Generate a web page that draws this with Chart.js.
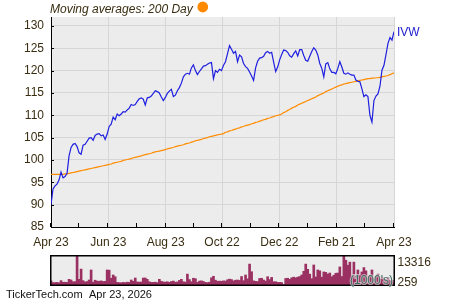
<!DOCTYPE html>
<html><head><meta charset="utf-8">
<script src="https://cdn.jsdelivr.net/npm/chart.js@4/dist/chart.umd.min.js"></script>
<style>
html,body{margin:0;padding:0;background:#fff;}
#wrap{position:relative;width:450px;height:300px;overflow:hidden;}
#main{position:absolute;left:0;top:0;width:450px;height:250px;}
#vol{position:absolute;left:0;top:250px;width:450px;height:50px;}
</style></head><body>
<div id="wrap">
<canvas id="main" width="450" height="250"></canvas>
<canvas id="vol" width="450" height="50"></canvas>
</div>
<script>
// ---- data ----
const ivw = [
  90.0, 93.5, 94.2, 94.6, 95.5, 97.3, 96.0, 96.3, 97.0, 100.9,
  102.8, 103.5, 103.7, 103.0, 101.6, 101.3, 103.3, 103.5, 104.2, 104.9,
  105.0, 104.4, 105.5, 105.8, 105.9, 105.4, 105.6, 104.6, 105.8, 107.5,
  108.0, 109.6, 109.0, 110.3, 109.9, 110.3, 110.8, 110.7, 111.2, 111.6,
  112.4, 112.2, 112.4, 113.1, 113.7, 113.9, 113.6, 112.3, 113.9, 114.0,
  114.3, 114.9, 115.5, 115.3, 115.0, 114.1, 113.3, 114.0, 114.9, 115.4,
  115.8, 114.2, 114.5, 115.5, 116.2, 117.2, 118.6, 119.2, 119.4, 119.2,
  120.6, 121.3, 120.0, 119.1, 119.8, 120.4, 121.0, 121.1, 121.4, 121.7,
  121.8, 118.2, 120.0, 119.6, 120.3, 120.0, 121.2, 122.0, 123.8, 125.6,
  124.8, 123.9, 124.3, 122.0, 123.5, 123.1, 121.6, 120.9, 120.5, 119.7,
  118.8, 117.8, 120.6, 122.1, 122.8, 122.9, 123.2, 124.0, 124.3, 123.9,
  124.1, 121.9, 119.8, 120.8, 122.4, 123.6, 124.6, 124.5, 124.1, 123.3,
  123.0, 123.8, 124.4, 123.3, 124.7, 124.7, 123.4, 122.3, 122.1, 123.2,
  124.3, 125.1, 124.6, 123.5, 121.6, 120.5, 118.6, 121.5, 121.8, 120.4,
  119.6, 119.6, 119.3, 120.5, 122.0, 120.8, 119.4, 119.2, 119.5, 119.2,
  119.0, 119.0, 117.9, 117.6, 117.5, 115.9, 114.2, 114.6, 114.2, 110.0,
  108.5, 113.3, 114.3, 114.8, 116.5, 120.1, 121.2, 123.6, 126.1, 127.4, 126.8, 128.7
];
const sma200 = [
  96.8, 96.8, 96.8, 96.8, 96.8, 96.8, 96.8, 96.9, 96.9, 97.0,
  97.1, 97.2, 97.3, 97.4, 97.5, 97.6, 97.7, 97.8, 97.9, 98.0,
  98.1, 98.2, 98.3, 98.4, 98.5, 98.6, 98.7, 98.8, 98.9, 99.0,
  99.1, 99.3, 99.4, 99.5, 99.6, 99.7, 99.9, 100.0, 100.1, 100.2,
  100.3, 100.5, 100.6, 100.7, 100.8, 100.9, 101.1, 101.2, 101.3, 101.4,
  101.5, 101.7, 101.8, 101.9, 102.0, 102.1, 102.2, 102.3, 102.5, 102.6,
  102.7, 102.8, 103.0, 103.1, 103.2, 103.3, 103.4, 103.6, 103.7, 103.8,
  104.0, 104.1, 104.3, 104.4, 104.5, 104.6, 104.8, 104.9, 105.0, 105.2,
  105.3, 105.4, 105.5, 105.6, 105.7, 105.8, 105.9, 106.2, 106.3, 106.5,
  106.6, 106.8, 106.9, 107.1, 107.2, 107.4, 107.5, 107.7, 107.8, 107.9,
  108.1, 108.2, 108.4, 108.5, 108.7, 108.8, 109.0, 109.1, 109.3, 109.4,
  109.6, 109.7, 109.9, 110.0, 110.1, 110.3, 110.6, 110.8, 111.1, 111.3,
  111.6, 111.8, 112.0, 112.3, 112.5, 112.7, 112.9, 113.1, 113.3, 113.5,
  113.7, 113.9, 114.1, 114.4, 114.6, 114.8, 115.0, 115.3, 115.5, 115.7,
  115.9, 116.1, 116.3, 116.5, 116.7, 116.8, 117.0, 117.1, 117.2, 117.3,
  117.4, 117.5, 117.6, 117.7, 117.8, 117.9, 118.0, 118.1, 118.2, 118.2,
  118.3, 118.3, 118.4, 118.4, 118.5, 118.6, 118.7, 118.8, 118.9, 119.1, 119.3, 119.5
];
const volume = [
  1900, 1100, 1100, 1200, 1000, 2000, 1250, 1300, 1200, 2600,
  2300, 1500, 1550, 13316, 2600, 7300, 2000, 1400, 1600, 2300,
  6900, 1300, 2200, 1800, 1700, 1900, 1600, 1700, 6900, 6800,
  3100, 4600, 3800, 1200, 1100, 1000, 1200, 1100, 1300, 1200,
  2300, 1700, 3200, 1400, 1300, 1400, 3200, 3200, 2600, 1500,
  1200, 1200, 1300, 1100, 2600, 1700, 1400, 1300, 1500, 1200,
  1600, 1800, 1300, 1400, 2100, 2600, 1500, 1300, 5000, 2500,
  1500, 3100, 2900, 1200, 1800, 1900, 1600, 1200, 1100, 1300,
  3300, 4000, 2200, 1700, 1800, 1700, 1900, 1800, 2400, 2700,
  2500, 1900, 2200, 2300, 2100, 3900, 2000, 4600, 2800, 9600,
  6100, 1900, 1700, 1600, 3000, 3100, 2300, 1800, 3800, 2500,
  3500, 1500, 1500, 1200, 1200, 1100, 259, 3000, 3100, 2600,
  3300, 3600, 3300, 3600, 3900, 4600, 6300, 9600, 7200, 5000,
  2900, 9200, 3700, 6900, 6500, 3600, 6000, 5800, 5000, 5500,
  3800, 4500, 5400, 5500, 8300, 3900, 13316, 11400, 9100, 10500,
  4200, 10500, 3700, 6900, 4300, 6000, 8000, 6500, 3800, 4500,
  6900, 2800, 4000, 5000, 2600, 3700, 2900, 2400, 3500, 2000, 1800, 2200
];
const monthTickDays = [0, 30, 61, 91, 122, 152, 182, 213, 243, 273, 304, 334, 365];
const monthTickLabels = ['Apr 23', '', 'Jun 23', '', 'Aug 23', '', 'Oct 22', '', 'Dec 22', '', 'Feb 21', '', 'Apr 23'];
const yTickValues = [85, 87.5, 90, 92.5, 95, 97.5, 100, 102.5, 105, 107.5, 110, 112.5, 115, 117.5, 120, 122.5, 125, 127.5, 130];
const volTickValues = [13316, 259];
const volTickLabels = ['13316', '259'];
const tickerName = 'IVW';
const titleText = 'Moving averages: 200 Day';
const footerSite = 'TickerTech.com';
const footerDate = 'Apr 23, 2026';
const volUnits = "(1000's)";

// ---- drawing ----
const FONT = '"Liberation Sans", Arial, sans-serif';
const LABEL = '#3a2e12';
const n = ivw.length;
const dayOf = i => i * 365 / (n - 1);

const bgPlugin = {
  id: 'bg',
  beforeDraw(chart) {
    const a = chart.chartArea, c = chart.ctx;
    c.save(); c.fillStyle = '#ececec';
    c.fillRect(a.left, a.top, a.right - a.left, a.bottom - a.top);
    c.restore();
  }
};

const mainOverlay = {
  id: 'mainOverlay',
  afterDraw(chart) {
    const c = chart.ctx, a = chart.chartArea;
    const xs = chart.scales.x, ys = chart.scales.y;
    c.save();
    c.strokeStyle = '#000'; c.lineWidth = 1;
    c.beginPath();
    xs.ticks.forEach(t => {
      const px = Math.round(xs.getPixelForValue(t.value)) - 0.5;
      c.moveTo(px, a.bottom); c.lineTo(px, a.bottom - 4);
    });
    ys.ticks.forEach(t => {
      const py = Math.round(ys.getPixelForValue(t.value)) + 0.5;
      c.moveTo(a.left, py); c.lineTo(a.left + 3, py);
    });
    c.stroke();
    // ticker label
    c.fillStyle = '#2020d0';
    c.font = '12px ' + FONT;
    c.textBaseline = 'middle'; c.textAlign = 'left';
    c.fillText(tickerName, a.right + 3, ys.getPixelForValue(ivw[n - 1]) + 1);
    // title
    c.fillStyle = LABEL;
    c.font = 'italic 12px ' + FONT;
    c.textBaseline = 'alphabetic';
    c.fillText(titleText, 50, 12.5);
    const w = c.measureText(titleText).width;
    c.fillStyle = '#ff8a00';
    c.beginPath(); c.arc(50 + w + 10, 7, 5.4, 0, Math.PI * 2); c.fill();
    c.restore();
  }
};

new Chart(document.getElementById('main'), {
  type: 'line',
  data: {
    datasets: [
      { label: tickerName, data: ivw.map((v, i) => ({ x: dayOf(i), y: v })),
        borderColor: '#1f1fe0', borderWidth: 1.2, pointRadius: 0, tension: 0, order: 1 },
      { label: '200 Day', data: sma200.map((v, i) => ({ x: dayOf(i), y: v })),
        borderColor: '#ff8c00', borderWidth: 1.2, pointRadius: 0, tension: 0, order: 2 }
    ]
  },
  options: {
    responsive: false, animation: false, events: [],
    layout: { padding: { top: 17, right: 56, left: 0, bottom: 0 } },
    plugins: { legend: { display: false }, tooltip: { enabled: false } },
    scales: {
      x: {
        type: 'linear', min: 0, max: 365,
        afterBuildTicks: s => { s.ticks = monthTickDays.map(v => ({ value: v })); },
        afterFit: s => { s.height = 23; },
        grid: { drawTicks: false, lineWidth: 1,
          color: ctx => (ctx.index > 0 && ctx.index % 2 === 0) ? '#d6d6d6' : 'rgba(0,0,0,0)' },
        border: { display: true, color: '#000', width: 1 },
        ticks: { autoSkip: false, maxRotation: 0, minRotation: 0, padding: 8, color: LABEL,
          font: { family: FONT, size: 12 }, callback: (v, i) => monthTickLabels[i] }
      },
      y: {
        min: 85, max: 132,
        afterBuildTicks: s => { s.ticks = yTickValues.map(v => ({ value: v })); },
        afterFit: s => { s.width = 51; },
        grid: { drawTicks: false, lineWidth: 1,
          color: ctx => (ctx.tick && ctx.tick.value % 5 === 0 && ctx.tick.value > 85) ? '#d6d6d6' : 'rgba(0,0,0,0)' },
        border: { display: true, color: '#000', width: 1 },
        ticks: { padding: 7, color: LABEL, font: { family: FONT, size: 12 },
          callback: v => (v % 5 === 0 ? String(v) : '') }
      }
    }
  },
  plugins: [bgPlugin, mainOverlay]
});

const volOverlay = {
  id: 'volOverlay',
  afterDraw(chart) {
    const c = chart.ctx, a = chart.chartArea, ys = chart.scales.y;
    c.save();
    c.strokeStyle = '#000'; c.lineWidth = 1.5;
    c.strokeRect(a.left - 0.25, a.top - 0.25, a.right - a.left + 0.5, a.bottom - a.top + 0.5);
    c.font = '12px ' + FONT;
    c.fillStyle = LABEL; c.textAlign = 'left';
    c.textBaseline = 'top';
    c.fillText(volTickLabels[0], a.right + 3.5, ys.getPixelForValue(volTickValues[0]) + 0.5);
    c.textBaseline = 'bottom';
    c.fillText(volTickLabels[1], a.right + 3.5, ys.getPixelForValue(volTickValues[1]) + 4);
    c.textAlign = 'right'; c.textBaseline = 'alphabetic';
    c.lineWidth = 2; c.strokeStyle = 'rgba(236,236,236,0.6)';
    c.strokeText(volUnits, a.right - 1, a.bottom - 1.5);
    c.fillStyle = '#3f6e5e';
    c.fillText(volUnits, a.right - 1, a.bottom - 1.5);
    c.textAlign = 'left';
    c.fillStyle = '#111';
    c.font = '11px ' + FONT;
    c.fillText(footerSite, 6, 47.5);
    c.fillText(footerDate, 89, 47.5);
    c.restore();
  }
};

new Chart(document.getElementById('vol'), {
  type: 'bar',
  data: {
    datasets: [{ data: volume.map((v, i) => ({ x: dayOf(i), y: v })),
      backgroundColor: '#9b3162', borderWidth: 0, barPercentage: 1, categoryPercentage: 1 }]
  },
  options: {
    responsive: false, animation: false, events: [],
    layout: { padding: { top: 6, bottom: 15, left: 51, right: 56 } },
    plugins: { legend: { display: false }, tooltip: { enabled: false } },
    scales: {
      x: { type: 'linear', min: 0, max: 365, offset: false, display: false },
      y: { min: 0, max: 13316, display: false }
    }
  },
  plugins: [bgPlugin, volOverlay]
});
</script>
</body></html>
